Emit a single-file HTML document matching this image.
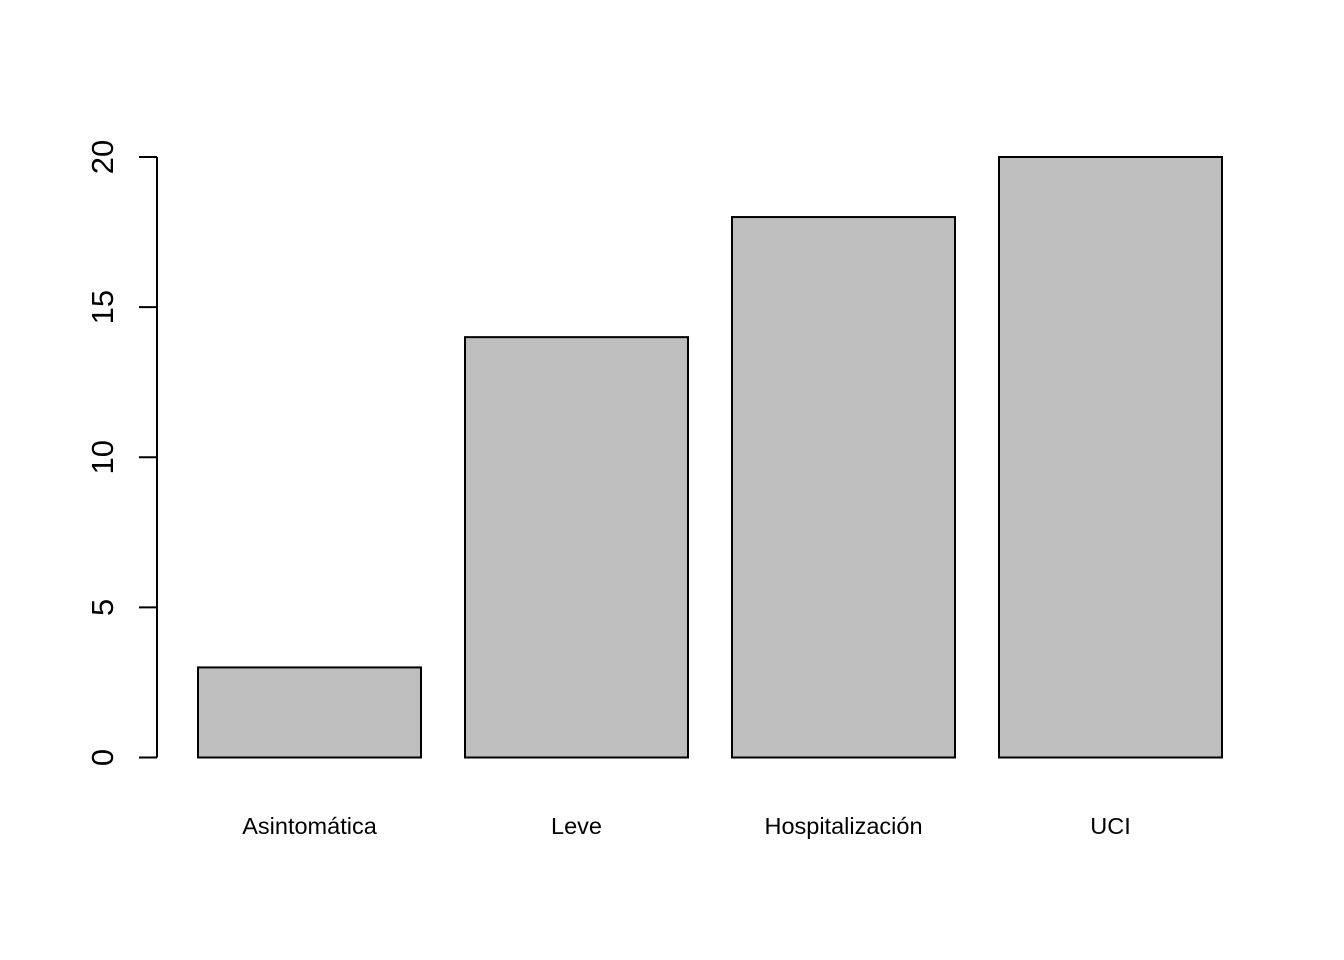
<!DOCTYPE html>
<html><head><meta charset="utf-8"><style>body{margin:0;background:#fff}svg{display:block}</style></head>
<body>
<svg id="chart" width="1344" height="960" xmlns="http://www.w3.org/2000/svg" font-family="Liberation Sans, Arial, sans-serif"></svg>
<script>
const categories = ["Asintomática","Leve","Hospitalización","UCI"];
const values = [3,14,18,20];
const yTicks = [0,5,10,15,20];
const svg = document.getElementById('chart');
const NS = 'http://www.w3.org/2000/svg';
const y = v => 757.5 - v * (600.5/20);
const barX = i => 198 + i * 267;
const barW = 223;
function mk(tag, attrs){const e=document.createElementNS(NS,tag);for(const k in attrs)e.setAttribute(k,attrs[k]);svg.appendChild(e);return e;}
categories.forEach((c,i)=>{
  const r = mk('rect',{x:barX(i),y:y(values[i]),width:barW,height:y(0)-y(values[i]),fill:'#bebebe',stroke:'#000','stroke-width':2});
  
  
  const t = mk('text',{x:barX(i)+barW/2,y:834,'text-anchor':'middle','font-size':23.5,fill:'#000'});
  t.textContent = c;
  
  
});
const ax = mk('line',{x1:157,x2:157,y1:y(yTicks[0]),y2:y(yTicks[yTicks.length-1]),stroke:'#000','stroke-width':2});


yTicks.forEach(v=>{
  const tk = mk('line',{x1:139,x2:157,y1:y(v),y2:y(v),stroke:'#000','stroke-width':2});
  
  
  const t = mk('text',{x:0,y:0,'text-anchor':'middle','font-size':31,fill:'#000',transform:`translate(113,${y(v)}) rotate(-90)`});
  t.textContent = v;
  
  
});
</script>
</body></html>
